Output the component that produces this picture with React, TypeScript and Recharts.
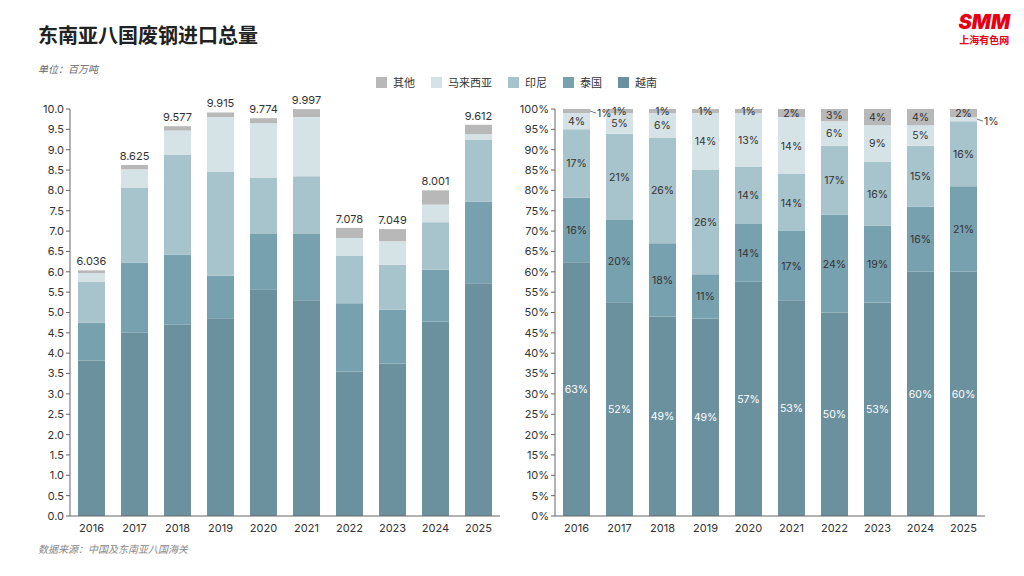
import React from 'react';
import { BarChart, Bar, XAxis, YAxis, LabelList } from 'recharts';

const years = ['2016', '2017', '2018', '2019', '2020', '2021', '2022', '2023', '2024', '2025'];
const totals = [6.036, 8.625, 9.577, 9.915, 9.774, 9.997, 7.078, 7.049, 8.001, 9.612];
const vietnam = [3.82, 4.5, 4.7, 4.86, 5.57, 5.3, 3.55, 3.75, 4.78, 5.72];
const thailand = [0.93, 1.72, 1.72, 1.04, 1.36, 1.63, 1.68, 1.32, 1.27, 2.01];
const indonesia = [1.0, 1.85, 2.46, 2.55, 1.39, 1.42, 1.17, 1.1, 1.17, 1.52];
const malaysia = [0.22, 0.45, 0.59, 1.35, 1.33, 1.45, 0.43, 0.58, 0.43, 0.13];

const pctVietnam = [63, 52, 49, 49, 57, 53, 50, 53, 60, 60];
const pctThailand = [16, 20, 18, 11, 14, 17, 24, 19, 16, 21];
const pctIndonesia = [17, 21, 26, 26, 14, 14, 17, 16, 15, 16];
const pctMalaysia = [4, 5, 6, 14, 13, 14, 6, 9, 5, 1];
const pctOther = [1, 1, 1, 1, 1, 2, 3, 4, 4, 2];

const yTicks = Array.from({ length: 21 }, (_, i) => i * 0.5);
const pTicks = Array.from({ length: 21 }, (_, i) => i * 0.05);

const series = [
  { key: '越南', color: '#6b919f' },
  { key: '泰国', color: '#77a1af' },
  { key: '印尼', color: '#a7c3cb' },
  { key: '马来西亚', color: '#d5e3e7' },
  { key: '其他', color: '#b8b8b8' },
];

const amountData = years.map((y, i) => {
  const sub = vietnam[i] + thailand[i] + indonesia[i] + malaysia[i];
  return {
    year: y,
    越南: vietnam[i],
    泰国: thailand[i],
    印尼: indonesia[i],
    马来西亚: malaysia[i],
    其他: Math.max(totals[i] - sub, 0.05),
    total: totals[i].toFixed(3),
  };
});

const pctData = years.map((y, i) => ({
  year: y,
  越南: pctVietnam[i],
  泰国: pctThailand[i],
  印尼: pctIndonesia[i],
  马来西亚: pctMalaysia[i],
  其他: pctOther[i],
}));

const font = 'Inter, "Noto Sans CJK SC", sans-serif';
const tick = { fontSize: 11, fill: '#333', fontFamily: font };

const outside: Record<string, number[]> = { 其他: [0], 马来西亚: [9] };

function makeLabel(key: string) {
  return (p: any) => {
    const { x, y, width, height, value, index } = p;
    const out = (outside[key] || []).includes(index);
    if (out) {
      const cy = y + height / 2;
      return (
        <g>
          <line x1={x + width} y1={cy} x2={x + width + 6} y2={cy + 2} stroke="#555" strokeWidth={0.8} />
          <text x={x + width + 7} y={cy + 6} fontSize={10.5} fill="#333" fontFamily={font}>{value}%</text>
        </g>
      );
    }
    return (
      <text x={x + width / 2} y={y + height / 2 + 4} textAnchor="middle" fontSize={10.5}
        fill={key === '越南' ? '#fff' : '#333'} fontFamily={font}>{value}%</text>
    );
  };
}

export default function App() {
  return (
    <div style={{ position: 'absolute', left: 0, top: 0, width: 1024, height: 576, background: '#fff', fontFamily: font, overflow: 'hidden' }}>
      <div style={{ position: 'absolute', left: 38, top: 20, fontSize: 20, fontWeight: 700, color: '#222' }}>东南亚八国废钢进口总量</div>
      <div style={{ position: 'absolute', left: 38, top: 61, fontSize: 10, fontStyle: 'italic', color: '#666' }}>单位：百万吨</div>
      <div style={{ position: 'absolute', right: 14, top: 12, textAlign: 'center', color: '#e60012' }}>
        <div style={{ fontSize: 20, fontWeight: 900, fontStyle: 'italic', lineHeight: '20px' }}>SMM</div>
        <div style={{ fontSize: 10, fontWeight: 700 }}>上海有色网</div>
      </div>
      <div style={{ position: 'absolute', left: 376, top: 74, display: 'flex', gap: 16, fontSize: 11, color: '#333' }}>
        {[...series].reverse().map(s => (
          <div key={s.key} style={{ display: 'flex', alignItems: 'center', gap: 6 }}>
            <span style={{ width: 11, height: 11, background: s.color, display: 'inline-block' }} />
            {s.key}
          </div>
        ))}
      </div>
      <div style={{ position: 'absolute', left: 20, top: 75 }}>
        <BarChart width={490} height={470} data={amountData} margin={{ top: 34, right: 10, left: 0, bottom: 0 }} barSize={27}>
          <XAxis dataKey="year" tick={tick} tickLine={false} axisLine={{ stroke: '#666' }} height={29} />
          <YAxis domain={[0, 10]} ticks={yTicks} tickFormatter={(v: number) => v.toFixed(1)} tick={tick} width={50}
            axisLine={{ stroke: '#666' }} tickLine={{ stroke: '#666' }} tickSize={4} interval={0} />
          {series.map(s => (
            <Bar key={s.key} dataKey={s.key} stackId="a" fill={s.color} isAnimationActive={false}>
              {s.key === '其他' && <LabelList dataKey="total" position="top" fontSize={11} fill="#333" fontFamily={font} />}
            </Bar>
          ))}
        </BarChart>
      </div>
      <div style={{ position: 'absolute', left: 505, top: 75 }}>
        <BarChart width={515} height={470} data={pctData} stackOffset="expand" margin={{ top: 34, right: 35, left: 0, bottom: 0 }} barSize={27}>
          <XAxis dataKey="year" tick={tick} tickLine={false} axisLine={{ stroke: '#666' }} height={29} />
          <YAxis domain={[0, 1]} ticks={pTicks} tickFormatter={(v: number) => `${Math.round(v * 100)}%`} tick={tick} width={50}
            axisLine={{ stroke: '#666' }} tickLine={{ stroke: '#666' }} tickSize={4} interval={0} />
          {series.map(s => (
            <Bar key={s.key} dataKey={s.key} stackId="a" fill={s.color} isAnimationActive={false}>
              <LabelList dataKey={s.key} content={makeLabel(s.key)} />
            </Bar>
          ))}
        </BarChart>
      </div>
      <div style={{ position: 'absolute', left: 38, top: 541, fontSize: 10, fontStyle: 'italic', color: '#888' }}>数据来源：中国及东南亚八国海关</div>
    </div>
  );
}
